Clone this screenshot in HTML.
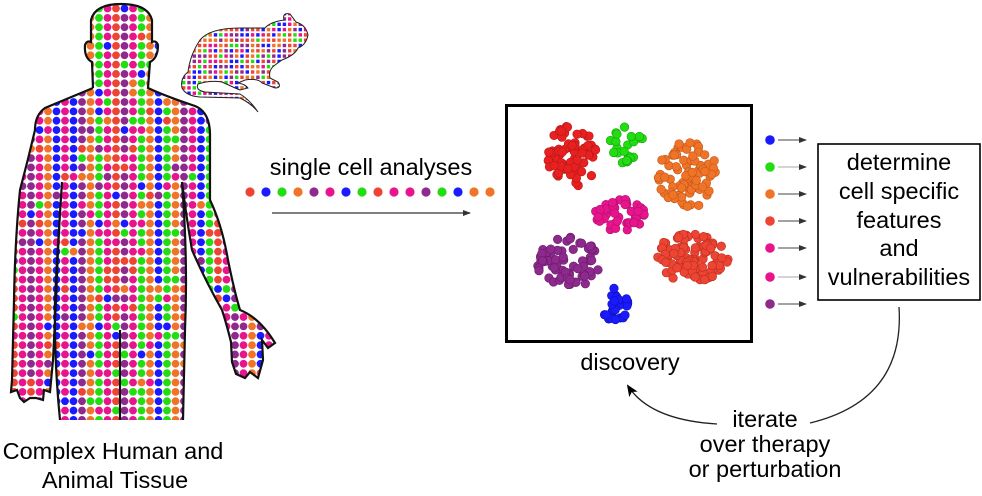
<!DOCTYPE html>
<html><head><meta charset="utf-8"><style>
html,body{margin:0;padding:0;background:#fff;width:982px;height:496px;overflow:hidden}
svg{display:block}
text{font-family:"Liberation Sans",sans-serif;fill:#000}
</style></head><body>
<svg id="s" width="982" height="496" viewBox="0 0 982 496" xmlns="http://www.w3.org/2000/svg">
<defs>
<clipPath id="bodyclip"><path id="bp" d="M93 88 L92 62 Q84 58 85 45 Q87 40 91 42 L91 20 Q95 4 121 4 Q148 4 152 20 L152 42 Q156 40 158 45 Q158 58 150 62 L148 88 Q165 96 195 106 Q210 112 210 135 L210 200 Q222 225 228 260 Q234 290 240 310 Q260 318 275 343 L268 348 L262 340 L263 360 L258 378 L250 372 L245 378 L236 374 L232 362 L231 342 Q226 322 222 310 Q205 280 192 250 Q186 215 182 182 Q188 260 185 330 L183 420 L60 420 Q54 360 55 300 Q58 240 62 182 Q58 260 56 300 L53 360 L50 392 L44 390 L43 400 L36 398 L30 398 L24 402 L20 398 L17 390 L11 392 L12 380 L14 300 Q15 240 20 190 Q28 160 35 130 Q35 115 45 108 Z"/></clipPath>
<clipPath id="mclip"><path id="mp" d="M308 35 Q306 25 296 22 L290 14 Q282 12 284 20 Q270 22 265 28 L240 28 Q210 28 200 40 Q190 55 188 72 Q180 78 182 88 Q186 96 200 97 L240 98 Q252 104 258 112 Q250 100 240 94 L205 92 Q195 90 198 84 Q210 80 222 82 Q235 88 240 90 L248 88 Q245 84 238 83 L245 80 Q258 78 262 83 L275 88 Q282 88 278 82 L270 78 Q268 70 275 65 L282 60 Q295 55 298 48 Q306 45 308 35 Z"/></clipPath>
<marker id="ah" markerWidth="8" markerHeight="8" refX="7" refY="4" orient="auto" markerUnits="userSpaceOnUse"><path d="M0 1 L8 4 L0 7 Z" fill="#333"/></marker>
<marker id="ah2" markerWidth="12" markerHeight="12" refX="10" refY="6" orient="auto" markerUnits="userSpaceOnUse"><path d="M0 1 L12 6 L0 11 L3 6 Z" fill="#000"/></marker>
</defs>
<g id="bodydots" clip-path="url(#bodyclip)"></g>
<g fill="none" stroke="#111" stroke-width="2.2">
<path d="M93 88 L92 62 Q84 58 85 45 Q87 40 91 42 L91 20 Q95 4 121 4 Q148 4 152 20 L152 42 Q156 40 158 45 Q158 58 150 62 L148 88 Q165 96 195 106 Q210 112 210 135 L210 200 Q222 225 228 260 Q234 290 240 310 Q260 318 275 343 L268 348 L262 340 L263 360 L258 378 L250 372 L245 378 L236 374 L232 362 L231 342 Q226 322 222 310 Q205 280 192 250 Q186 215 182 182 Q188 260 185 330 L183 420"/>
<path d="M93 88 L45 108 Q35 115 35 130 Q28 160 20 190 Q15 240 14 300 L12 380 L11 392 L17 390 L20 398 L24 402 L30 398 L36 398 L43 400 L44 390 L50 392 L53 360 L56 300 Q58 240 62 182 Q58 240 55 300 Q54 360 60 420"/>
<path d="M120 330 L120 420"/>
</g>
<g id="mdots" clip-path="url(#mclip)"></g>
<use href="#mp" fill="none" stroke="#222" stroke-width="1"/>
<text x="371" y="175" font-size="23.5" text-anchor="middle">single cell analyses</text>
<g id="row"></g>
<line x1="272" y1="213" x2="470" y2="213" stroke="#333" stroke-width="1.3" marker-end="url(#ah)"/>
<rect x="506.5" y="105.5" width="245" height="236" fill="none" stroke="#000" stroke-width="3"/>
<g id="clusters"></g>
<text x="630" y="370" font-size="23.5" text-anchor="middle">discovery</text>
<g id="side"></g>
<rect x="818" y="144" width="162" height="156" fill="none" stroke="#000" stroke-width="1.6"/>
<g font-size="23.5" text-anchor="middle">
<text x="899" y="170">determine</text>
<text x="899" y="199">cell specific</text>
<text x="899" y="228">features</text>
<text x="899" y="256">and</text>
<text x="899" y="285">vulnerabilities</text>
</g>
<path d="M899 307 Q905 400 810 423" fill="none" stroke="#222" stroke-width="1.3"/>
<path d="M717 424 Q650 420 628 386" fill="none" stroke="#222" stroke-width="1.3" marker-end="url(#ah2)"/>
<g font-size="23.5" text-anchor="middle">
<text x="765" y="427">iterate</text>
<text x="765" y="452">over therapy</text>
<text x="765" y="477">or perturbation</text>
<text x="113" y="459">Complex Human and</text>
<text x="115" y="488">Animal Tissue</text>
</g>
</svg>
<script>
var NS="http://www.w3.org/2000/svg";
var C={r:"#ee4433",b:"#1a1aff",g:"#22dd11",o:"#f07428",p:"#8e2a8e",m:"#e8148c",R:"#e82020"};
var seed=7;function rnd(){seed=(seed*16807)%2147483647;return seed/2147483647;}
function el(p,t,a){var e=document.createElementNS(NS,t);for(var k in a)e.setAttribute(k,a[k]);p.appendChild(e);return e;}
var bd=document.getElementById("bodydots");
var keys=["g","o","p","m","b","g","r","m","p","m","o","b","m","b","p","o","g","m","r","p","m","g","o","b"];
var allc=["r","b","g","o","p","m"];
for(var i=-11;i<=22;i++){var x=99+8.5*i;var ck=keys[(i+40)%keys.length];
 for(var j=0;j<48;j++){var y=8.5+9.35*j;var c=ck;if(rnd()<0.18)c=allc[Math.floor(rnd()*6)];
 el(bd,"circle",{cx:x,cy:y,r:3.9,fill:C[c]});}}
var md=document.getElementById("mdots");
for(var x=182;x<312;x+=5.3)for(var y=12;y<115;y+=5.3){var c=allc[Math.floor(rnd()*6)];el(md,"rect",{x:x,y:y,width:3.4,height:3.4,fill:C[c]});}
var row=document.getElementById("row");var rc="rbgopmbgrmmpgboo";
for(var k=0;k<16;k++)el(row,"circle",{cx:250+16*k,cy:192,r:4.6,fill:C[rc[k]]});
var cl=document.getElementById("clusters");
var cs=[[571,158,26,32,70,"R","#b81818"],[627,145,17,20,22,"g","#18a010"],[688,175,30,34,80,"o","#c05818"],[620,215,26,16,45,"m","#b01070"],[568,262,32,26,70,"p","#6a1a6a"],[690,258,38,24,100,"r","#b83020"],[615,305,13,17,28,"b","#1010b0"]];
cs.forEach(function(c){for(var n=0;n<c[4];n++){var u=rnd()*2-1,v=rnd()*2-1;if(u*u+v*v>1){n--;continue;}
 el(cl,"circle",{cx:c[0]+u*c[2],cy:c[1]+v*c[3],r:4.3,fill:C[c[5]],stroke:c[6],"stroke-width":0.6});}});
var sd=document.getElementById("side");var sc="bgormmp";var sy=[140,167,194,221,248,277,304];
for(var k=0;k<7;k++){el(sd,"circle",{cx:770,cy:sy[k],r:4.8,fill:C[sc[k]]});
 el(sd,"line",{x1:778,y1:sy[k],x2:806,y2:sy[k],stroke:(k==1||k==5)?"#aaa":"#444","stroke-width":1.1,"marker-end":"url(#ah)"});}
</script>
</body></html>
